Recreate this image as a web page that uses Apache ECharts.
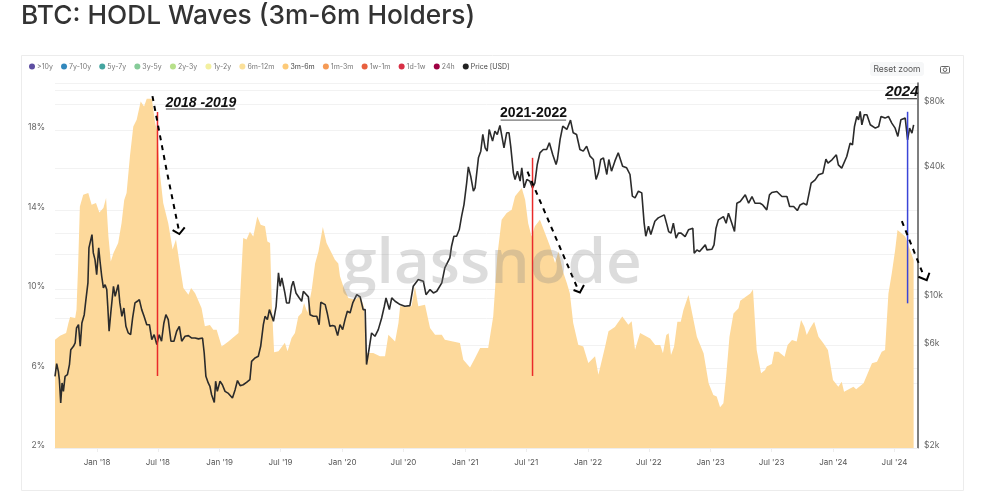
<!DOCTYPE html>
<html><head><meta charset="utf-8">
<style>html,body{margin:0;padding:0;background:#fff}#c{width:984px;height:501px}</style>
<script src="https://cdn.jsdelivr.net/npm/echarts@6/dist/echarts.min.js"></script>
</head><body><div id="c"></div>
<script>
const startDate = Date.UTC(2017, 7, 29);
const DAY = 86400000;
const endDate = Date.UTC(2024, 8, 9);

const legendNames = ['>10y','7y-10y','5y-7y','3y-5y','2y-3y','1y-2y','6m-12m','3m-6m','1m-3m','1w-1m','1d-1w','24h','Price [USD]'];
const legendColors = ['#5e4fa2','#3288bd','#45a5a0','#85cb98','#b7e08a','#f3f0a0','#fbe09a','#fdca78','#f59a55','#e8603f','#d82f45','#9e0142','#222222'];

const dateTicks = ['2018-01-01','2018-07-01','2019-01-01','2019-07-01','2020-01-01','2020-07-01','2021-01-01','2021-07-01','2022-01-01','2022-07-01','2023-01-01','2023-07-01','2024-01-01','2024-07-01'];
const pctLabels = [2,6,10,14,18];
const pctGrid = [2,6,10,14,18,20];
const usdLabels = [2000,6000,10000,40000,80000];
const usdGrid = [2000,4000,6000,8000,10000,16000,20000,40000,80000,100000];

const areaDays = [0,15,33,40,45,60,64,69,74,84,99,109,122,132,144,152,159,166,174,188,198,206,213,223,233,243,255,265,273,288,298,305,312,322,337,350,360,372,382,397,405,417,436,446,461,471,481,496,516,546,552,560,570,580,590,602,612,625,632,640,645,652,665,684,692,704,714,724,734,741,751,764,774,784,797,808,823,833,843,848,858,873,893,908,919,927,947,967,982,992,1012,1022,1027,1061,1071,1081,1101,1116,1131,1151,1160,1205,1215,1235,1250,1265,1289,1304,1316,1329,1344,1359,1369,1389,1399,1408,1418,1428,1443,1458,1473,1488,1498,1513,1523,1532,1542,1557,1572,1587,1607,1617,1637,1647,1666,1688,1706,1716,1726,1741,1771,1786,1801,1809,1819,1826,1833,1842,1852,1862,1870,1885,1900,1910,1930,1945,1959,1969,1979,1989,1997,2007,2019,2034,2039,2069,2077,2088,2101,2113,2118,2133,2140,2153,2171,2180,2193,2207,2220,2230,2237,2247,2259,2272,2287,2300,2315,2331,2341,2348,2366,2376,2384,2406,2431,2446,2460,2470,2480,2490,2500,2507,2530,2555];
const areaPct = [7.46,7.66,7.79,8.3,8.6,8.55,8.97,11.3,14.17,14.76,14.85,14.26,14.34,13.87,14.09,14.6,12.66,11.4,11.82,12.33,13.33,14.5,14.85,16.7,18.2,18.54,19.46,19.2,19.6,19.6,18.37,17.87,15.85,14.34,13.33,12,12.5,11.15,10.06,9.72,10.06,9.8,9.05,8.13,8.2,7.96,7.96,7.12,7.37,7.8,9.98,12.58,12.5,12.9,12.66,13.67,13.25,13.17,12.41,12.33,9.3,6.82,6.87,7.3,6.87,7.54,7.8,8.63,8.8,9.3,8.83,9.98,11.3,11.9,13.13,12.33,11.82,11.49,11.3,10.65,10.14,9.56,9.47,9.67,9.14,6.79,6.79,6.62,6.62,7.71,7.37,8.3,9.14,9.14,10.14,9.14,9.22,8.05,7.71,7.71,7.46,7.29,6.45,6.06,6.53,7.04,7.04,8.63,11.66,13.5,13.84,14,14.68,15.1,14.51,13.33,12.66,13.17,13.5,12.83,12.16,11.32,11.9,10.82,10.31,9.8,8.3,7.2,7.12,6.28,6.62,5.69,7.12,7.88,8.1,8.63,8.21,8.38,6.95,7.79,7.52,7.19,7.19,6.77,7.69,7.78,6.69,7.1,8.36,8.36,8.95,9.71,8.45,7.61,6.77,5.26,4.67,4.59,4.05,4.25,5.59,7.61,8.78,9.04,9.42,9.79,9.99,6.94,5.76,5.93,6.1,6.23,6.85,6.85,6.6,7.19,7.44,7.36,8.45,8.11,7.69,8.03,8.36,7.61,7.27,6.94,5.43,5.09,5.34,4.84,5,5.09,4.96,5.26,6.27,6.35,6.85,6.94,9.79,10.8,11.97,12.98,12.65,11.47];

const priceDays = [0,5,10,13,17,21,25,30,37,43,47,55,60,64,70,75,80,87,92,98,101,106,110,114,119,124,130,134,139,144,149,154,157,161,166,174,179,188,193,199,205,211,218,225,231,238,245,251,258,265,273,281,288,295,303,310,317,324,330,337,345,354,362,370,377,387,397,407,417,427,439,444,449,456,461,466,474,478,483,491,498,506,516,528,536,543,551,560,570,580,585,595,605,612,620,625,632,638,645,650,658,665,670,675,680,684,689,697,704,709,717,727,734,739,754,759,769,779,786,791,804,810,818,826,833,841,848,856,863,870,878,886,898,908,917,923,927,935,942,952,962,972,980,985,995,1002,1012,1027,1041,1056,1066,1081,1096,1104,1116,1126,1136,1151,1160,1175,1180,1187,1195,1203,1210,1217,1225,1230,1237,1245,1250,1260,1267,1273,1280,1286,1292,1302,1309,1316,1324,1336,1344,1351,1356,1364,1369,1376,1384,1389,1396,1404,1413,1421,1428,1435,1443,1453,1463,1471,1481,1491,1495,1503,1511,1523,1534,1542,1552,1562,1572,1582,1592,1602,1610,1617,1624,1632,1642,1648,1656,1666,1676,1689,1701,1711,1718,1726,1736,1746,1753,1758,1766,1773,1785,1795,1800,1813,1821,1826,1833,1840,1848,1855,1863,1875,1885,1898,1902,1910,1918,1935,1940,1955,1961,1967,1974,1989,1997,2004,2014,2022,2029,2039,2054,2064,2074,2083,2098,2106,2118,2126,2133,2148,2163,2178,2186,2198,2209,2217,2227,2237,2250,2262,2272,2285,2294,2300,2312,2325,2331,2341,2356,2366,2373,2379,2386,2391,2396,2401,2408,2416,2426,2441,2451,2458,2470,2480,2490,2500,2508,2517,2530,2537,2543,2550,2555];
const priceUsd = [4312,4940,4550,4161,3240,4015,3670,4312,4390,4890,5740,5949,6165,7240,7500,5949,7640,8350,9812,11733,17080,17388,19700,16187,15070,12830,17080,14800,12603,11120,11520,10923,9135,6990,8505,11321,10170,11520,9468,8206,8970,7372,6863,6740,8060,9468,9640,9812,8814,8206,7500,7500,6390,6740,6060,6740,6280,7640,8350,7918,6280,6280,6990,7372,6280,6622,6670,6500,6500,6440,6500,5538,4312,4015,3874,3540,3260,4090,3670,4090,3940,3670,3590,3420,3738,4120,3900,3940,4040,4161,5060,5250,5344,5949,7500,8206,7918,8814,8206,7780,9135,13062,11321,12380,11321,10540,9468,9468,11321,11950,10540,9990,9640,10730,10100,8350,8206,8206,7500,9530,9300,8505,7372,7430,7372,6670,7500,7113,7918,8660,8505,9468,10350,10100,8814,8814,4890,5840,6863,6622,7113,8060,9135,9990,8814,9990,9640,9300,9135,9200,11321,12160,11950,10350,10923,10540,10730,11733,13780,15340,17388,19357,19357,20792,23989,27180,34300,40700,36843,31360,32500,44850,48170,57600,49930,48170,60780,53630,59700,57600,63450,49930,58645,58645,50829,38184,35549,38870,34920,40280,32500,35549,34920,32500,34300,41750,47321,49044,49044,52680,46480,41750,44055,54597,62992,60780,67170,58645,57600,49044,48170,50829,45659,44055,35549,38184,44055,44850,37500,44055,38870,43270,47321,41015,40280,37500,29729,29200,31360,30811,22333,19357,21549,19700,22730,23560,23989,24340,21860,20350,20000,22250,18950,20000,20000,19290,20720,21100,16130,16720,16420,17640,16720,16840,17640,21100,23060,23900,22250,24770,22250,20350,27570,28080,30160,27570,29620,27570,27570,27070,25670,30160,30920,31260,29620,29620,26610,26610,25490,27070,27570,27070,34180,35420,37380,38040,44210,42360,43900,46310,41600,40140,45480,52490,51550,62770,69900,67420,73800,63900,71150,71150,63900,61650,62770,69900,68650,69900,65050,61650,56380,67420,68650,54400,61650,58430,63900];

// annotations: [dayOffset, percent]
const redLine1 = [[305,18.93],[305,5.63]];
const redLine2 = [[1421,16.62],[1421,5.63]];
const blueLine = [[2537,18.94],[2537,9.29]];
const arrow1 = [[290,19.73],[332,16.0],[370,12.85]];
const head1 = [[350,12.98],[370,12.78],[386,13.12]];
const arrow2 = [[1406,15.92],[1557,9.96]];
const head2 = [[1543,9.96],[1562,9.84],[1574,10.21]];
const arrow3 = [[2520,13.43],[2584,10.72]];
const head3 = [[2569,10.63],[2594,10.46],[2602,10.83]];
const rule1 = [[330,19.08],[536,19.08]];
const rule2 = [[1326,18.52],[1521,18.52]];
const rule3 = [[2476,19.6],[2565,19.6]];
const noteTexts = [[434,19.38,'2018 -2019','italic'],[1424,18.88,'2021-2022','normal'],[2520,19.93,'2024','italic']];

const toX = d => startDate + d * DAY;
const xy = a => a.map(p => [toX(p[0]), p[1]]);
const zipS = (xs, ys) => xs.map((d, i) => [toX(d), ys[i]]);
const tickMs = dateTicks.map(s => Date.parse(s + 'T00:00:00Z'));
const MON = ['Jan','Feb','Mar','Apr','May','Jun','Jul','Aug','Sep','Oct','Nov','Dec'];

function ann(pts, color, width, dash) {
  return { type:'line', data:xy(pts), yAxisIndex:0, symbol:'none', clip:false, silent:true, z:6, animation:false,
    lineStyle:{ color, width, type: dash ? [5,5] : 'solid', cap:'butt', join:'miter' }, legendHoverLink:false };
}

const chart = echarts.init(document.getElementById('c'), null, { renderer:'canvas' });
const FONT = 'Inter, "Open Sans", sans-serif';
chart.setOption({
  animation:false,
  backgroundColor:'#fff',
  title:{ text:'BTC: HODL Waves (3m-6m Holders)', left:21, top:3, padding:0, textStyle:{ fontFamily:FONT, fontSize:26.3, fontWeight:500, color:'#333' } },
  legend:{ left:24, top:58, icon:'circle', itemWidth:6, itemHeight:6, itemGap:8.2, selectedMode:false,
    textStyle:{ fontFamily:FONT, fontSize:7, color:'#777', padding:[0,0,0,-3] },
    data:legendNames.map(n => ({ name:n, textStyle:{ color:(n==='3m-6m'||n==='Price [USD]')?'#444':'#777' } })) },
  grid:{ left:55, right:66, top:83, bottom:53 },
  xAxis:{ type:'value', min:startDate, max:endDate,
    axisLine:{ show:true, lineStyle:{ color:'#eeeeee' } },
    axisTick:{ show:true, length:4, lineStyle:{ color:'#eeeeee' }, customValues:tickMs },
    splitLine:{ show:false },
    axisLabel:{ customValues:tickMs, margin:11, fontFamily:FONT, fontSize:8, color:'#555',
      formatter:v => { const d=new Date(v); return MON[d.getUTCMonth()]+" '"+String(d.getUTCFullYear()).slice(2); } } },
  yAxis:[
    { type:'value', min:2, max:20.39, position:'left', 
      axisLine:{ show:false },
      axisTick:{ show:false, customValues:pctGrid },
      splitLine:{ show:true, lineStyle:{ color:'#f2f2f2', width:1 } },
      axisLabel:{ customValues:pctLabels, margin:10, fontFamily:FONT, fontSize:8.5, color:'#666', verticalAlign:'bottom', lineHeight:5, formatter:v=>v+'%' } },
    { type:'log', logBase:10, min:2000, max:100000, position:'right',
      axisLine:{ show:true, onZero:false, lineStyle:{ color:'#555', width:1.5 } },
      axisTick:{ show:false, customValues:usdGrid },
      splitLine:{ show:true, lineStyle:{ color:'#f2f2f2', width:1 } },
      axisLabel:{ customValues:usdLabels, margin:6, fontFamily:FONT, fontSize:8.5, color:'#666', verticalAlign:'bottom', lineHeight:5, formatter:v=>'$'+Math.round(v/1000)+'k' } }
  ],
  series:[
    ...legendNames.filter(n=>n!=='3m-6m'&&n!=='Price [USD]').map(n=>({ name:n, type:'line', data:[], itemStyle:{ color:legendColors[legendNames.indexOf(n)] } })),
    { name:'3m-6m', type:'line', yAxisIndex:0, data:zipS(areaDays,areaPct), symbol:'none', showSymbol:false, z:2,
      itemStyle:{ color:legendColors[7] }, lineStyle:{ width:0 }, areaStyle:{ color:'#fdd99b', opacity:1 } },
    { name:'Price [USD]', type:'line', yAxisIndex:1, data:zipS(priceDays,priceUsd), symbol:'none', showSymbol:false, z:4,
      itemStyle:{ color:legendColors[12] }, lineStyle:{ color:'#2b2b2b', width:1.6 } },
    ann(redLine1,'#ea2a2a',1.5), ann(redLine2,'#ea2a2a',1.5), ann(blueLine,'#3a45d8',1.5),
    ann(arrow1,'#000',2,true), ann(head1,'#000',2),
    ann(arrow2,'#000',2,true), ann(head2,'#000',2),
    ann(rule1,'#444',1.2), ann(rule2,'#777',1.2), ann(rule3,'#444',1.2),
    { type:'scatter', yAxisIndex:0, symbolSize:0, silent:true, z:7, clip:false, itemStyle:{ opacity:1 },
      data:noteTexts.map(n=>({ value:[toX(n[0]),n[1]], name:n[2],
        label:{ show:true, position:'inside', formatter:n[2], fontFamily:'"Liberation Sans", Arial, sans-serif', fontWeight:'bold', fontStyle:n[3], fontSize:n[2]==='2024'?15:14, color:'#111' } })) }
  ]
});
// the third arrow runs past the plot's right edge, so it is placed through the axes' own converter
const px = pts => xy(pts).map(p => chart.convertToPixel({ xAxisIndex:0, yAxisIndex:0 }, p));
chart.setOption({ graphic:[
  { type:'rect', z:-1, shape:{ x:21.5, y:55.5, width:942, height:435 }, style:{ fill:'#fff', stroke:'#ececec', lineWidth:1 }, silent:true },
  { type:'rect', shape:{ x:870, y:62, width:54, height:14, r:3 }, style:{ fill:'#f6f7f8' }, silent:true },
  { type:'text', x:897, y:69, style:{ text:'Reset zoom', fontFamily:FONT, fontSize:8.5, fill:'#555', align:'center', verticalAlign:'middle' }, silent:true },
  { type:'rect', shape:{ x:940.5, y:66.5, width:9, height:6.5, r:1 }, style:{ fill:'none', stroke:'#666', lineWidth:1 }, silent:true },
  { type:'circle', shape:{ cx:945, cy:69.7, r:1.8 }, style:{ fill:'none', stroke:'#666', lineWidth:1 }, silent:true },
  { type:'text', x:492, y:265, z:100, style:{ text:'glassnode', fontFamily:'"Open Sans", sans-serif', fontSize:62, fontWeight:600, fill:'rgba(128,128,128,0.28)', align:'center', verticalAlign:'middle' }, silent:true },
  { type:'polyline', z:90, shape:{ points:px(arrow3) }, style:{ fill:'none', stroke:'#000', lineWidth:2, lineDash:[5,5] }, silent:true },
  { type:'polyline', z:90, shape:{ points:px(head3) }, style:{ fill:'none', stroke:'#000', lineWidth:2 }, silent:true }
]});
</script></body></html>
